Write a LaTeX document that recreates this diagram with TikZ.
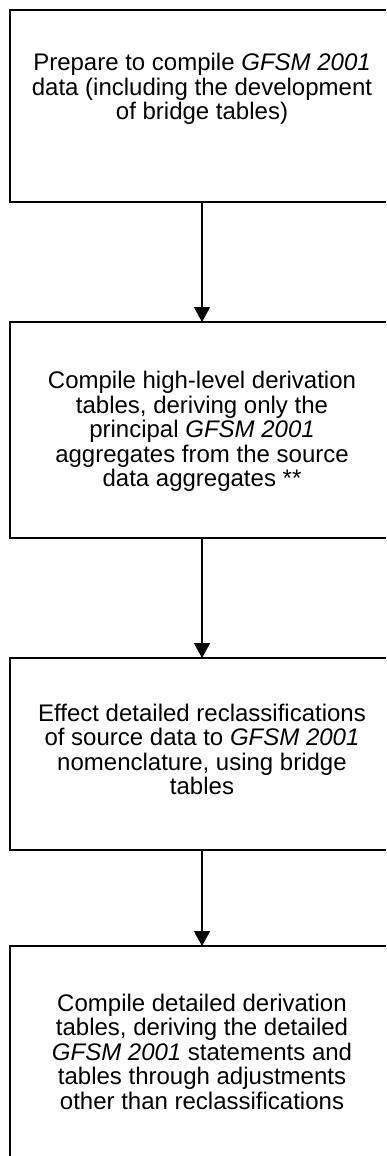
\documentclass[tikz,border=0pt]{standalone}
\usepackage{fontspec}
\setmainfont{Liberation Sans}
\usetikzlibrary{positioning,arrows.meta}

\begin{document}
\begin{tikzpicture}[x=1pt, y=1pt, >={Triangle[width=16pt,length=15pt]}, line width=1.2pt,
	stepbox/.style={draw, rectangle, outer sep=0pt, minimum width=384pt},
	steptext/.style={align=center, inner sep=0pt, font=\fontsize{24pt}{24.5pt}\selectfont}]
	% page frame
	\clip (0,0) rectangle (386,-1156);
	
	% process boxes, top to bottom
	\node[stepbox, minimum height=192pt, anchor=north west] (prep) at (10,-10) {};
	\node[stepbox, minimum height=216pt, below=120pt of prep] (highlevel) {};
	\node[stepbox, minimum height=192pt, below=120pt of highlevel] (reclass) {};
	\node[stepbox, minimum height=240pt, below=96pt of reclass] (detailed) {};
	
	% box texts
	\node[steptext, below=43pt of prep.north] (prep-t)
		{Prepare to compile \textit{GFSM 2001}\\data (including the development\\of bridge tables)};
	\node[steptext, below=49pt of highlevel.north] (highlevel-t)
		{Compile high-level derivation\\tables, deriving only the\\principal \textit{GFSM 2001}\\aggregates from the source\\data aggregates **};
	\node[steptext, below=45pt of reclass.north] (reclass-t)
		{Effect detailed reclassifications\\of source data to \textit{GFSM 2001}\\nomenclature, using bridge\\tables};
	\node[steptext, below=47pt of detailed.north] (detailed-t)
		{Compile detailed derivation\\tables, deriving the detailed\\\textit{GFSM 2001} statements and\\tables through adjustments\\other than reclassifications};
	
	% arrows
	\draw[->] (prep) -- (highlevel);
	\draw[->] (highlevel) -- (reclass);
	\draw[->] (reclass) -- (detailed);
\end{tikzpicture}
\end{document}
